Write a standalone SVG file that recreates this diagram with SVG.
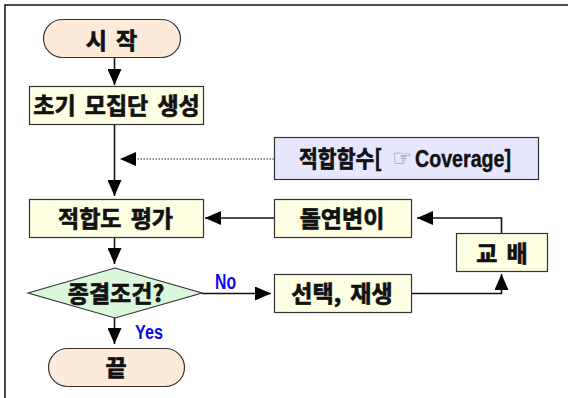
<svg xmlns="http://www.w3.org/2000/svg" width="568" height="398" viewBox="0 0 568 398">
<style>
.frame{fill:none;stroke:#111;stroke-width:1.5}
.term{fill:#FDEAD9;stroke:#333;stroke-width:1.2}
.box{fill:#FFFFE3;stroke:#333;stroke-width:1.2}
.fit{fill:#E6E6FF;stroke:#333;stroke-width:1.2}
.dec{fill:#DAF7DA;stroke:#333;stroke-width:1.2}
.lbl{font-family:"Noto Sans CJK KR","Noto Sans",sans-serif;font-weight:bold;font-size:23px;fill:#111;stroke:#111;stroke-width:0.7;text-anchor:middle;word-spacing:4px}
.lft{text-anchor:start}
.hand{font-family:"DejaVu Sans",sans-serif;font-size:23px;fill:#8a8a8a;stroke:none}
.lat{font-family:"Liberation Sans",Arial,sans-serif;font-weight:bold;stroke-width:0.4}
.yn{font-family:"Liberation Sans",Arial,sans-serif;font-weight:bold;fill:#0A0AEE}
.conn{fill:none;stroke:#111;stroke-width:1.6}
.dot{fill:none;stroke:#222;stroke-width:1;stroke-dasharray:1.5 1.5}
</style>
<defs>
<marker id="ah" markerUnits="userSpaceOnUse" markerWidth="16" markerHeight="14" refX="16" refY="7" orient="auto">
<path d="M0,0 L16,7 L0,14 Z" fill="#000" stroke="none"/>
</marker>
</defs>
<path class="frame" d="M5,398 V5 H568"/>
<g id="connectors">
<path class="conn" d="M114.5,57 V85" marker-end="url(#ah)"/>
<path class="conn" d="M114.5,124 V196" marker-end="url(#ah)"/>
<path class="dot" d="M274,159 H136"/>
<path d="M120,159 L136,152 L136,166 Z" fill="#000"/>
<path class="conn" d="M274,218 H205" marker-end="url(#ah)"/>
<path class="conn" d="M114.5,238 V264" marker-end="url(#ah)"/>
<path class="conn" d="M202,293.5 H271" marker-end="url(#ah)"/>
<path class="conn" d="M114.5,317 V344" marker-end="url(#ah)"/>
<path class="conn" d="M411,293.5 H501.5 V274" marker-end="url(#ah)"/>
<path class="conn" d="M501.5,233 V218 H417" marker-end="url(#ah)"/>
<text class="yn" x="215" y="289" font-size="22" textLength="21" lengthAdjust="spacingAndGlyphs">No</text>
<text class="yn" x="135" y="339" font-size="20" textLength="28" lengthAdjust="spacingAndGlyphs">Yes</text>
</g>
<g id="start">
<rect class="term" x="43.5" y="19.5" width="137" height="38" rx="19"/>
<text class="lbl" x="111.5" y="48.5">시 작</text>
</g>
<g id="init">
<rect class="box" x="29.5" y="86.5" width="174" height="38"/>
<text class="lbl" x="116.5" y="113.5">초기 모집단 생성</text>
</g>
<g id="fitness">
<rect class="fit" x="274.5" y="137.5" width="264" height="42"/>
<text class="lbl lft" x="299" y="166.5" font-size="21" textLength="83" lengthAdjust="spacingAndGlyphs">적합함수[</text>
<text class="hand" x="392" y="166">☞</text>
<text class="lbl lft lat" x="415" y="167" font-size="28" textLength="96" lengthAdjust="spacingAndGlyphs">Coverage]</text>
</g>
<g id="evaluate">
<rect class="box" x="29.5" y="199.5" width="174" height="38"/>
<text class="lbl" x="115.5" y="226.5">적합도 평가</text>
</g>
<g id="mutation">
<rect class="box" x="274.5" y="199.5" width="137" height="38"/>
<text class="lbl" x="342" y="226.5">돌연변이</text>
</g>
<g id="crossover">
<rect class="box" x="456.5" y="233.5" width="91" height="38"/>
<text class="lbl" x="502" y="261.5">교 배</text>
</g>
<g id="select">
<rect class="box" x="274.5" y="274.5" width="137" height="38"/>
<text class="lbl" x="342" y="301.5">선택, 재생</text>
</g>
<g id="decision">
<polygon class="dec" points="28,293 115,268 202,293 115,318"/>
<text class="lbl" x="116" y="301.5">종결조건?</text>
</g>
<g id="end">
<rect class="term" x="48.5" y="348.5" width="136" height="38" rx="19"/>
<text class="lbl" x="116" y="376">끝</text>
</g>
</svg>
